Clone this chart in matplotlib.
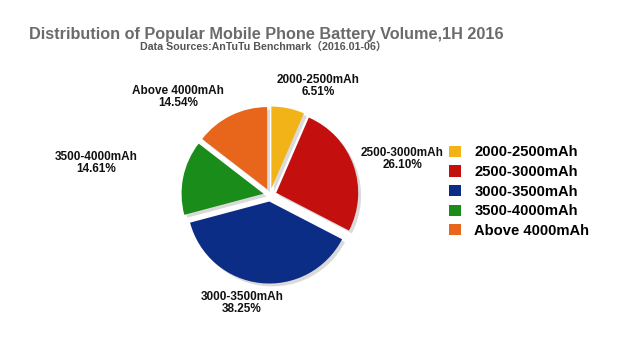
import matplotlib.pyplot as plt
from matplotlib.patches import Patch

labels = ['2000-2500mAh', '2500-3000mAh', '3000-3500mAh', '3500-4000mAh', 'Above 4000mAh']
shares = [6.51, 26.10, 38.25, 14.61, 14.54]
colors = ['#F2B318', '#C40F0F', '#0B2D86', '#198C19', '#E8651C']
label_pos = [(0.585, 1.33), (1.61, 0.44), (-0.34, -1.32), (-2.12, 0.39), (-1.12, 1.20)]

plt.rcParams['font.family'] = ['Liberation Sans', 'Noto Sans CJK SC', 'DejaVu Sans']

cx, cy, r = 270, 195, 82  # pie centre and radius in pixels
fig = plt.figure(figsize=(6.2, 3.49), dpi=100)
ax = fig.add_axes([0, 0, 1, 1])

explode = [0.08] * len(shares)
# soft shadow behind the slices
ax.pie(shares, explode=explode, startangle=90, counterclock=False,
       colors=['#dadada'] * len(shares), center=(0.035, -0.035), frame=True)
ax.pie(shares, explode=explode, startangle=90, counterclock=False,
       colors=colors, frame=True)
ax.set_xlim(-cx / r, (620 - cx) / r)
ax.set_ylim(-(349 - cy) / r, cy / r)
ax.set_aspect('equal')
ax.axis('off')

for lab, val, (x, y) in zip(labels, shares, label_pos):
    ax.text(x, y, f'{lab}\n{val:.2f}%', ha='center', va='center',
            fontsize=8.5, fontweight='bold', color='#111111', linespacing=1.0)

fig.text(0.429, 0.902, 'Distribution of Popular Mobile Phone Battery Volume,1H 2016',
         ha='center', va='center', fontsize=11.7, fontweight='bold', color='#6b6b6b')
fig.text(0.424, 0.866, 'Data Sources:AnTuTu Benchmark\uff082016.01-06\uff09',
         ha='center', va='center', fontsize=7.7, fontweight='bold', color='#555555')

handles = [Patch(facecolor=c, edgecolor='none') for c in colors]
fig.legend(handles, labels, loc='upper left', bbox_to_anchor=(0.715, 0.60),
           frameon=False, prop={'weight': 'bold', 'size': 10.6},
           handlelength=0.8, handleheight=0.8, handletextpad=0.9,
           labelspacing=0.38, borderaxespad=0)

fig.savefig('out.png', dpi=100)
